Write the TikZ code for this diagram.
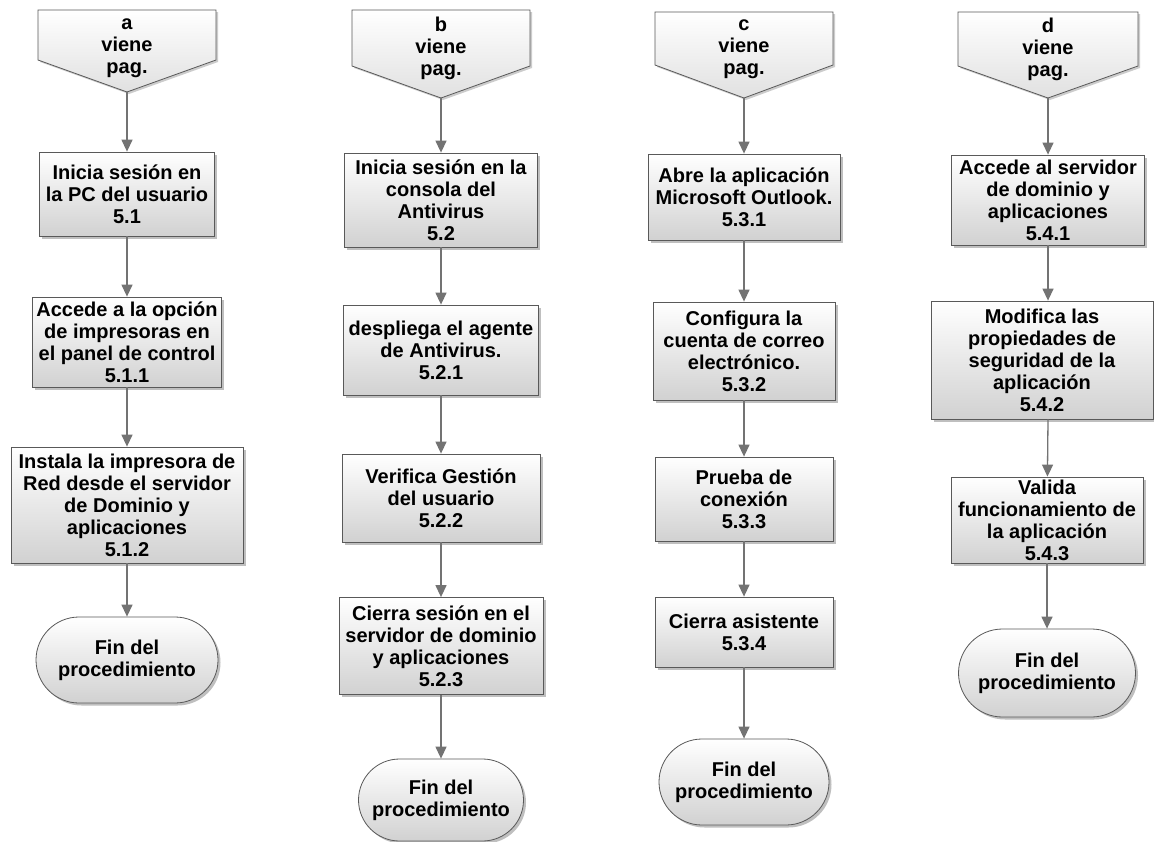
\documentclass[tikz,border=0pt]{standalone}
\usepackage{fontspec}
\setmainfont{Liberation Sans}
\usetikzlibrary{arrows.meta,shapes.misc,shadows}

\begin{document}
\begin{tikzpicture}[x=1pt,y=-1pt,font=\fontsize{20}{22}\selectfont\bfseries,
  >={Triangle[length=12pt,width=11pt]},
  caja/.style={draw=black!65,line width=0.8pt,top color=white,bottom color=black!18,
    drop shadow={shadow xshift=2.5pt,shadow yshift=-2.5pt,opacity=0.5},align=center,inner sep=0pt},
  fin/.style={caja,rounded rectangle},
  pagina/.style={draw=black!65,line width=0.8pt,top color=white,bottom color=black!12,
    drop shadow={shadow xshift=2pt,shadow yshift=-2pt,opacity=0.4}},
  texto/.style={align=center,inner sep=0pt},
  flecha/.style={->,draw=black!55,line width=1.3pt}]
\path[fill=white] (0,0) rectangle (1154,841);
\useasboundingbox (0,0) rectangle (1154,841);

% columna a
\draw[pagina] (38,10) -- (216,10) -- (216,60) -- (127,92) -- (38,60) -- cycle;
\node[texto] (pa) at (127,48) {a\\viene\\pag.};
\coordinate (ta) at (127,92);
\node[caja,minimum width=175pt,minimum height=84pt] (a1) at (127,194) {Inicia sesión en\\la PC del usuario\\5.1};
\node[caja,minimum width=189pt,minimum height=90pt] (a2) at (127,342) {Accede a la opción\\de impresoras en\\el panel de control\\5.1.1};
\node[caja,minimum width=232pt,minimum height=116pt] (a3) at (127,505) {Instala la impresora de\\Red desde el servidor\\de Dominio y\\aplicaciones\\5.1.2};
\node[fin,minimum width=182pt,minimum height=86pt] (af) at (127,660) {Fin del\\procedimiento};
\draw[flecha] (ta) -- (a1);
\draw[flecha] (a1) -- (a2);
\draw[flecha] (a2) -- (a3);
\draw[flecha] (a3) -- (af);

% columna b
\draw[pagina] (352,10) -- (530,10) -- (530,66) -- (441,98) -- (352,66) -- cycle;
\node[texto] (pb) at (441,48) {b\\viene\\pag.};
\coordinate (tb) at (441,98);
\node[caja,minimum width=193pt,minimum height=94pt] (b1) at (441,200) {Inicia sesión en la\\consola del\\Antivirus\\5.2};
\node[caja,minimum width=195pt,minimum height=90pt] (b2) at (441,350) {despliega el agente\\de Antivirus.\\5.2.1};
\node[caja,minimum width=198pt,minimum height=88pt] (b3) at (441,498) {Verifica Gestión\\del usuario\\5.2.2};
\node[caja,minimum width=204pt,minimum height=97pt] (b4) at (441,646) {Cierra sesión en el\\servidor de dominio\\y aplicaciones\\5.2.3};
\node[fin,minimum width=165pt,minimum height=82pt] (bf) at (441,800) {Fin del\\procedimiento};
\draw[flecha] (tb) -- (b1);
\draw[flecha] (b1) -- (b2);
\draw[flecha] (b2) -- (b3);
\draw[flecha] (b3) -- (b4);
\draw[flecha] (b4) -- (bf);

% columna c
\draw[pagina] (655,12) -- (833,12) -- (833,65) -- (744,98) -- (655,65) -- cycle;
\node[texto] (pc) at (744,49) {c\\viene\\pag.};
\coordinate (tc) at (744,98);
\node[caja,minimum width=192pt,minimum height=86pt] (c1) at (744,197) {Abre la aplicación\\Microsoft Outlook.\\5.3.1};
\node[caja,minimum width=182pt,minimum height=98pt] (c2) at (744,351) {Configura la\\cuenta de correo\\electrónico.\\5.3.2};
\node[caja,minimum width=178pt,minimum height=84pt] (c3) at (744,499) {Prueba de\\conexión\\5.3.3};
\node[caja,minimum width=178pt,minimum height=70pt] (c4) at (744,632) {Cierra asistente\\5.3.4};
\node[fin,minimum width=170pt,minimum height=86pt] (cf) at (744,782) {Fin del\\procedimiento};
\draw[flecha] (tc) -- (c1);
\draw[flecha] (c1) -- (c2);
\draw[flecha] (c2) -- (c3);
\draw[flecha] (c3) -- (c4);
\draw[flecha] (c4) -- (cf);

% columna d
\draw[pagina] (958,12) -- (1138,12) -- (1138,66) -- (1048,98) -- (958,66) -- cycle;
\node[texto] (pd) at (1048,49) {d\\viene\\pag.};
\coordinate (td) at (1048,98);
\node[caja,minimum width=193pt,minimum height=90pt] (d1) at (1048,200) {Accede al servidor\\de dominio y\\aplicaciones\\5.4.1};
\node[caja,minimum width=222pt,minimum height=118pt] (d2) at (1042,360) {Modifica las\\propiedades de\\seguridad de la\\aplicación\\5.4.2};
\node[caja,minimum width=192pt,minimum height=86pt] (d3) at (1047,520) {Valida\\funcionamiento de\\la aplicación\\5.4.3};
\node[fin,minimum width=177pt,minimum height=88pt] (df) at (1047,673) {Fin del\\procedimiento};
\draw[flecha] (td) -- (d1);
\draw[flecha] (d1.south) -- (d1.south |- d2.north);
\draw[flecha] (d1.south |- d2.south) -- (d3);
\draw[flecha] (d3) -- (df);
\end{tikzpicture}
\end{document}
